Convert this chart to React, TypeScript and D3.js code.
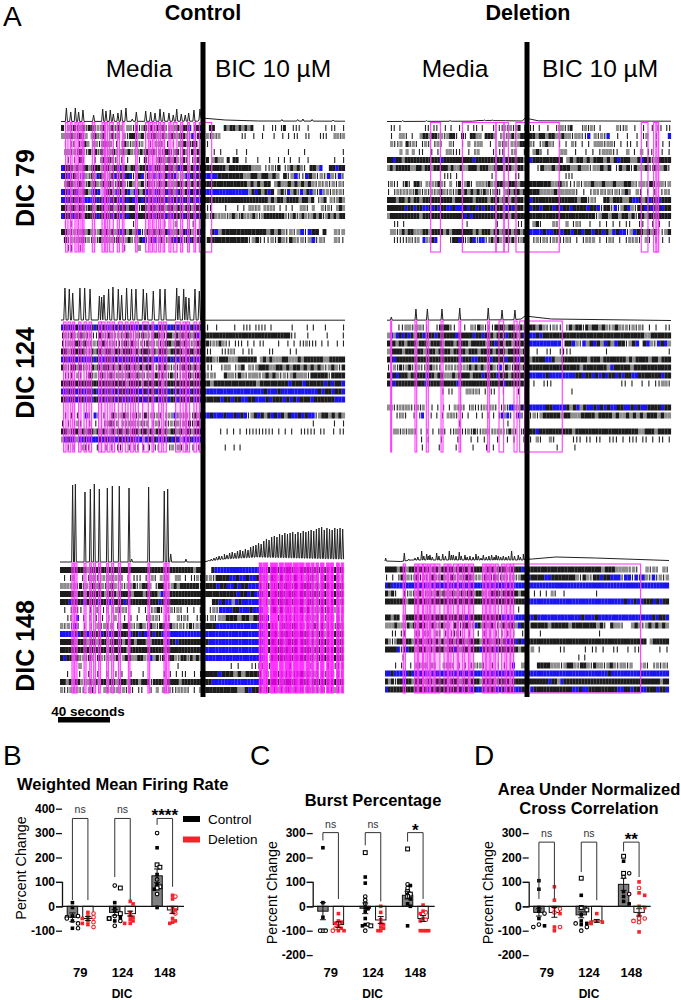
import * as d3 from "d3";
import { useEffect, useRef } from "react";

// raster rows: "media/BIC", one char per time bin
// " " nothing, "|" single spike, "g" sparse bin, "k" dense bin, "b" burst bin
const rowsControl79 = [
  "k|g|k|gk|kk|g|k gk|kg gg|k|gk|k|kgk||g|kgkkb kkb/  kk   kgkkgkgkgk   |  || |k  |||  |     | ||  |",
  "gg:kg|k|g gk|gk |k|g g|kk|gk|g|kg|kg|k|gkkg|b|kk/|g|g|g       ||  |  |   |  | | ||  ||   |||  gg|g",
  " | || |gkg gg|gk|g | |kg|g||g  | gg| | | |gkg|kk |/||",
  " gg|g|kg|k|k|kg|gkg|kgk|g|k|kgk|g|kk|gk|kg|kgk|/|  | |    |  |            |    |           |",
  "  | | k|   | |kgkg| | |   | k|  gk|gk|kg|k| |gk|/|k gkgg k kk  |   |   |  | | |  |  |        |  |",
  "bkkkgkgkkgkkkgkkgkkbkkgkkgkkkbgkkgkkkgkbkkgkbkk/kkkkkkkgkkkkkkkggg ||g|k |gkgkg| kkgb  kkbkk",
  "bkb|kg|bg|kgbkg gkb|kbkb|gkb|kgbgbgkbkbg|gbbkbkb/bbbbkkkkkkkggkkgkkgkg k|gb||bkg|g|bg|b|",
  " gkkg|kg|kgkg|kgkg|kkg|kg gk|kg|gkgkg|gkkgkgkgkg/kkkkkkkkkkkkkgkgkgkk gkggkgkgkgkg|g|g|g|g|",
  "bkbgkbgkkgbkb gkkgbkgkbgbkgkbkgbkgkbkgbkgkbkbkb/bbbbbbbbbbbbbbgkbkgkbk gk|bgk|bgkbg|b|g|g|g|",
  "bbkbkbkbbbbkbkbkbkkbbkbkbbkbkbkbbkkbkbkbkbkbkbbb/kkkkkkkkkkkkkkkkkkkkkgkgkkgkkkkgkkgk |gk g|gkg",
  "kkgkkgkk|kkgkkkgkkgkkkgkkg|kkgkkgkkgkkgkkgkkgkkk/ ||    |   | | gg|g g|g| | | |  gg| g  g|g| gkg",
  "bkkkbkkgkkkkbkkkkbkkbkbkkbkkkkkbkkkbkbkkkbkkkbkb/kg|kg|gg|gkg|kg|gkg|gkkkkkkkg|gk|gkg|gkgk|gkgkgkk",
  " | |                     |          |   g     |   /|  ",
  "kkg|g|gkgkg|gkgkgkgkbkgkgkb|gkgkgkgkb|gkgkbkg|kb/  kbgkkkkkkkkkkkkgkgkg|g|gb|bkk k  g|g",
  " k|g|g|k|g|g|kg|gg|kg|gk||gkb|gkb|kg|gkbkb|kbk|kb/ kkkkkkkkkkk|gk|||g|kg|kg|g|gb|g|  g||",
  "  ||  |              |    g/",
];

const rowsDeletion79 = [
  " || |        || ||  | |  |  | || |   | ||g|g|gk ||/|| |  |  |gg||k   |g|g| |     g||g  |  |  | || ||",
  " |  gg| |  gkkgkk|g|gkk| k| kkgg kkkg |g|gk|gkkk/kkgkkgkkggkgg|gg||b g|g|b  |  |  | |g  |   b",
  " g||g k|g| |g| |g|  g|  | g |gg  |  g|g g|gkkk/g| |gkg| | | g| | | ggg|gg| | || |  |  | | |",
  "    g g g ||  | |  gg|||  | |g    | ||  |g  |g/ gk| |   gg  |  | | |ggg||  g | g ||  | |",
  "kkbkkgkkkkkkkkkkkkbkkkkkkkkkkbkkkkkkkkkbkkkkkkgk/bkkkkkkkkk gkgkkgkgkkkgkgkbkkkggkbkk|gkkkk",
  "gkgkkkkkggkkgkkgkkkkkgkggkggkkkgkkkggkkkgkkggkkgk/  |kggkgkkkggkgg|ggkgk |kgk|kggk|kggk|",
  "                   ||| |           |       ||   /            |||",
  "|g|| |k| kk| g|g|kg| g |k|gk| ggg|kg|kkkgkkkgkkk/kkkkkkggkg|||g|ggkggkggkggkkg|gg|k|gg|g",
  "| |g|g|g|kg|g|g|gkg|g|gkgkgkgk|kg|gk| gkgkkgkk/kkkggggkggggg| | |g|g|g|g|gk| g| | | |g|",
  "kkkgkkgkgkkgkkkkkkkkkkgkkkkkkgkkkkgkkkgkkgkkkkgk/bkkkkkkkkkkkkkkgkk|g|  kkgkkkggkbbkgkbkkbkkk",
  "kkkkkkbkkbkkbbkbkbkkbbkbbbkbkkbkbkkbkkkkbkbkkkgk/bkkbkkkbkbkkbkkkkbkkb|kk|b|gkbg|kkbkbkkbkk",
  "gkkkkkkkkkkgkkkkkkkkkkkkkkbkbkkkkkkkkkkkkgkkkkkk/kkkkkkkkkkkkkkkkkkkk|gkkgkkgkkgk|kkgkkkkkkk",
  "  || |                    |         |      ||  / gk|   g|  g |g|  |  | | | | ||  ||  | |  |",
  " gg|gkgkkgggkkgkkkkgkgkkkkkkkgkgkkkgkkgkkkgkkgkk/bbbbkbbkkbkkbkkbkkbkkbkgbkbb|gbkkgkgk||gk",
  "  |||||g||g b|gkb    |kkbk|gkb|bb||kgkg|k|kg|gkk/ |g|g||g|||g| | |g|g | |g| | |g|g| g| | | |",
];

const rowsControl124 = [
  "bkbkbkbkbbkbkbkbbkbkbkbkbbkbkbkbbkbkbbkbkbkbkbkb/ |  |     |  ||| |||| |      |    | |   |     |",
  "|g|kg|kg|g||kg|kg|g|gkg|g|kg|gkkg|kkgkgkgkgkb|/kkkkkkkkkkkkkkkkkkkkkkkkkkk||   |     |    |",
  "||g|kkgkg|g|gkg|g||gk|kg|g|kg|g|gkkgkkgkg|gkg/gk|g|kg|| ||| | | ||    |  | | ||g||| | |  | |",
  "kkg|kkkkg|kgkkgkkgkkgkkkgkgkkkgkgkkkgkkkkgkkkgkk/ ||   |||g|  | ||     ||     | |",
  "bkbbkbkbbbkbkbbkkbkbbkbkbkbkkbkbbbkbkbkbkkbkbkbk/gkkg|kkkgggkkkkkk gkgkgggkkgggkgkkkkkkggkkkkk",
  "kg|kkgk|g|kgkgkkgkgkgkkgkgkgkk||kgkg|g|gkgkgkgk/ ||  |gg |gk g|gkkkggkkgkgkkgkgkgkg|gkg|k",
  " ||| g| |k|g|kg|kg|gg|k|gkg||g|k|kg|kg||g|kg|kg/g|g|  kgg|kg|ggg|gkgkg|g|gkggg|kkkkk|kkkk",
  "kkkkkkkkkkkkkkkkkkkkkkgkkkkgkkkkkkgkkkkkkkkkkkkk/kkgkkkkkkkkkkkkgkkkkkkkkbkkkbkkkkkbkbkkb",
  "bbkbkbkbbkbkbbkbkbkbkkbkbkbbkbkkbkbkbkbkbkbbkbkb/kbbbbbbbbbbbbbbbbbkbbbkbbbbbbbbbbbkbkkbkkb",
  "kkbkkbkkbkbkkbkbkkbkkbkbkkbkbkkbkbkkbkkbkkbkkbkb/kkkkkbkkbkkbbkkbbbkbkkkbkbkbkkkbkkkkkkbbb",
  "/",
  " | | |  b| b| |  kg|gkg|g|g|k|g|g| |g|b|g|g||kgk/bbkbbbkbbkbkb|gkbkgkbkbkgkbbkbkbb|gkkgkgkg",
  "| | |g|  | |  |gk|| g||g|g||g |g| ||g|g|g|k|gk|/                                    |      |  |",
  "kkg|kkgkgkkgkgk|gkgkkgkgkkgkkgkgkkgkgkkgkgkkgkkb/     | | | | ||||||||| | | |  ||||| ||  | ||",
  "gbkbbgbbkbbbbkbkbkbbkbkbkbbbgbkbkbbkbkbkbgbbkbbbb/",
  "  | |  g||  |  | | ||  | || | | ||   |g|g| | | ||/|      |  | |",
];

const rowsDeletion124 = [
  "   ||gg|gg||  |kkk||  | g|kg|||kkkgkkgkg|/kkgkg||g|| |kgkk|kgkkgkg|gkg|g|g|g| | |  ||",
  "gbgbkbkbkgkkbkkkbkkkkkkbkkkkkbkkbkkkgkkkbkkkgkbk/bbkbkkkkkkkkkkkkkkkkkkkkkkkkkkkkkkggkkkkkk",
  "kkkgkkgkkkgkkkgkkkkgkkkgkkkkgkkkkkgkkbkkgkkgkkkkk/bbbbbbbbb kkbg|bgkbkgbkgbkk|gkb kbg|bkbg",
  "gkkkkgkkkgkkgkkkgkkkkgkkkkgkkkgkkkkgkkkgkkkkgkk/  |  ||  ||||          |                  |",
  "kkbkkkkkkkkkkkkkkkkkkkkkbkkkbbkkkkbkkkkbkkkbkkk/gkkkkbbkggkkkkkkkkgkkkgkkkkkkkgkgkkkkgkkgkkk",
  "||g|k|gk||g|||kg|| |g||g|g|kgkgkg|kg|b|kg|kkgkk/kkkkkkkkkkkkkkkgkkkkkkkgbkkkkkgkkkkkkkkkkk",
  "kbkbkkkgkkkkkbkkgkkgggkgkkkkgkkkbkkkkbkkkgkkkkkk/bbbbbkbbbbbbbbkkbkkbkbkbkkbkbkkbbkkkkkkkbkk",
  "kkbkkkkkkkkkkbkkkkkkkkkkbkkkkkkkkkkkkkkkbkkkkkkkk/ |  |||                    || |  | | ||gg|",
  "                  | ||    gg|g| | ||  |    |   /              |",
  "/",
  "gg||g|gg||g|g  | | | | g|g| |g|||g||g| |g|bb|gkbb/bbbbbkkbbbbkgkbgkbbkbkbkbbkkbbkbkbbkkkkbkk",
  " | ||g|  | |b  | | | g|g| | |  | | | | |b|b| |b| |/|g|gkkkkkgkkgggkkkkgkkkkgkggkgkgkgkkkgkgg",
  "                      |              |      /",
  " |gg|g|gg| | | | |g| ||gg||g|k||gg||g|g||kg| |kk/kkbkkkkkkkkkkgkkkkkkkkkkkkkkkkkkkggkkkgkkkk",
  "          | |   |    |   | | |   |  | |  ||/| g|  g|     ||| || ||  ||| | ||| || | || |",
  "          |    |    |    |   | |         |/         |     |",
];

const rowsControl148 = [
  "kkkkkkkkkgkkkkkkkkkkkkkkkkkkkkkkkkkkkkkkkkkkkgkk/   kbbbbbbbbbbbbbbbbbkbkkbkkkkgkkkkkkkkkkkkkkk",
  " | |g  | |gg||g|g|g|| | ||| | g| g|g  gg | ||g|/g|g|kkkkbbkbbkbbkgb|kg|kg|gkg|g|kg|gkg|kg|",
  "ggg|g|k|g|kgkg|gkg|g|g|k|gkkg |kkg|gkgkkkkkk|/gkkkbkkbbkbkkbbbk|kg|kgkg|kgkkkgkgkkgkkk",
  "kkkkkgkkgkkkkkkgkkkgkkkkgkkkgkkkkgbkgkkkkkkkkkkk/kkkkkkkkkkbkkbkbbk|kgkkkgkkgkkgkkkgkgkkkk",
  "kkkbkkkkbkkkkbkkkbkkkkbkkkkkkkkkkkbkkkkkkkkkkkkkk/   kkbkbbgbkbbbbbb|kgkgkkkgkgkkgkkgkkkgkkgk",
  " | |g||  | | || |g|g|   | | |gk| |g|g| | | |/| |g|bbbbkkbbbkbbb |gk|kg|g|gk|kg|gk|k|g|g",
  "  || b | | | | | g  | | |  |g|g| ||  g|g|  ||/g|g|ggkkkgkkgkkkb  |g|g|g|g|g|g|g|g|",
  "g|g|b| | | g|g|g |gkkg|gkg|kg|kkgkg|g||k|g|/kkkkbbbbbbbbbbbbbbbk|g|kg|k|g|g|k|kg|g|kg",
  "bbbbbkbkkbbkkkbkkbkkbkkkbkkbkbbkbkkbbbbbbbbbbbbbb/bbbbbbbbbbbbbbbbbbb kgkgkkgkgkkkgkgkkgkgkkk",
  "kkkkkgkkkgkkgkkkgkkkkgkkkgkkkggkkkkgbkkbkkkkkkkk/gkbbbbbbbbbbbbbbbbb kkgkkgkkkgkkgkgkkkkgkkk",
  "kkkkkkkkkkkkkkkkgkkkkkkgkkkkkkkkkkkkkkkkkkkkkkkkk/bbbbbbbbbbbbbbbbbbb kgkkkkgkkgkkkgkkgkkkkkk",
  "kbkkgk|g|kg|kg|gg|k|gkkggkkg|bgk|k kkg|kk|kgkg/bbbbbbbbbbbbbbbbbbb kgkkkgkgkkkgkgkkkkgkkk",
  "     g                          |      /        | |   |||| |     |     | |  | ||g",
  "  |   |  |  |  |  | |  |   |      | | | ||  | |/kkkkbkkkgkgkkkk g|g|g|g|kkg|g|g|g|g|",
  "kkgkgkkg|gkgkgkkgkkgkkkgkkkgkkk|kkkkgkkkkgkkkkkkk/kkkbbbbbbbbbbbbbbbb kkkkgkkkkgkkkgkkkkkkkkkk",
  "g||g|g|| g| | g|g|g|g|g| ||  | g g|g||g|g| | g/kkkkkkkkkkggkbkkkgk |g|g|g|g|g|g|g|g|g|g",
];

const rowsDeletion148 = [
  "kkkkgkkgkkkkkkkgkkgkkkkgkkkkgkkkkgkkkgkkkgkkkkbb/kkkkkkkkkkkkkkkkkkkkkkgkkkgggg|g|  g|g| g|",
  "| | |kgg|gk|g||kg|kg|kg|g|kkg|g|kg|kg|g||g|gkk/bkkkkbbkkkkkkkg|kg|kkbkkbbb|bb|b|bg|b|g|g",
  "bkbbbbbbbbbbbbbbbbbbbbbbbbbbbbbbbbbbbbbbbbbbbbbbb/bbbbbbbbbbbbbbbbbbbbbbbbbbbbbbbbbbbbbbbbbbbbbb",
  "kgk|  ||g|gkg|g|gkgkg|kg|k|kkgkkg|gkkkgkkkkkgkk/  | | | g|  |          |",
  "kkkkkkkgkkkkkkkkkkkkkkkkkkkkkkkkkkkkkkkkkkkkkkkkb/bbbbbbbbbbbbbbbbbbbbbbbbbbbbbbkbbkbbkkkbkbkk",
  "                                        |  /",
  "kkgkk gkkkkkkkkkkkkkkkkkkkkkbkkkkkkkkkkkbbbbbbbbb/bbkbbbbbbbbbbbbbkbbbkbbbbbbbbbbbbbbbbkbkkb",
  "gggkgg|kgkgkkg|kg|kgg kg|kkg|bkgkgkg|gkgkkgbkg/ kkkkkgkkkkkgkkkkkkkgk| kgg|  gkg|gkgkgkg",
  "  || ||   || g|  g| | ||g|  |  | | | | | | |  ||/    |                   |",
  "kg|gkkgkkgkkkgkkgkgkgkkgkkkgkkkkgkkkgkkgkbkkbkbb/kkkkkkkkkkkkkkkkkkkkkkkkkkkkkkkkkkkkk gkkkkk",
  "kkkkb|kbkkgkkkgkgkkkgkkbkgkkgkkkbkkkkbkkkkkkkgkk/ g |     ||     | || |  ||  | ||     | |",
  "     |                                     /                 | |",
  "   | |  | g|gg g|  g|g| | | |g|g|  | | | |b  gg/   kkkkggg|gkkg|kkg|kgg|gkg|gg|g  |g| |g|g|",
  "bbkbbbbbkbbbbbbbbbbbbbbbbbbbbbbbbbbbbbbbbbbbbbbbb/bbbbbbbbbbbbbbbbbbbbbbbbbkbbbbbbbbbbbbbbbbbb",
  "kgk|kkbkkgkkkgkkgkkkkgkkkgkkgkkkgkkkkgkkkkgkkkkk/kkkkkkkbkkgbkkkkkkkkkkkkkkkkkkkkkkkkkkkkkkkkgkk",
  "bkkkkkkkkkkkkkkbkkkkkkkkkkkbkkbkbbkbkkkbbkbkkbbbkk/ bkkkkkkkkkkkkbbkbbkkkkkkkkkbbkkbkkbbkkkbkkb",
];

// network burst windows, [start, end] in seconds
const burstsControl79 = [[3.5,5.3],[7.1,8.4],[10.6,12.2],[13.4,15.2],[16.5,17.5],[23.8,25.6],[31.2,33],[34,35.5],[37,39.8],[42.8,44.4],[46.6,47.9],[56.8,58],[64.4,66.7],[67.7,69.5],[70.7,72.5],[74.3,75.8],[77.6,78.8],[82.1,83.6],[85.4,88.2],[91,92.5],[96.3,97.6],[101.1,102.4],[105.2,114.6]];
const burstsDeletion79 = [[33.2,40.6],[57.3,82.9],[82.9,89],[89,92.3],[98.1,131],[193.4,198.5],[202.8,205.3],[204.5,206.6]];
const burstsControl124 = [[2,3.8],[5.3,7.4],[8.9,10.4],[13.4,15.2],[17.5,19.5],[21.3,23.3],[28.6,30.7],[30.9,33.5],[35.2,37.3],[38.8,40.8],[43.6,46.6],[48.9,51],[53,55],[56.5,58.8],[62.1,66.4],[69.2,70.5],[74.3,76.6],[77.8,80.1],[87.2,90.7],[92.8,94.8],[95.6,97.8],[101.1,103.2],[105.2,107.2]];
const burstsDeletion124 = [[2.8,3.5],[21.3,22.6],[29.9,31.4],[41.1,42.6],[54.8,56],[76.6,77.8],[85.2,88.7],[96.6,98.9],[100.9,104.7],[104.7,133.3]];
const burstsControl148 = [[9.1,10.6],[11.2,12.9],[18.3,19.8],[22.6,23.8],[25.6,27.1],[29.4,30.7],[35.5,36.8],[39.3,40.8],[44.4,45.9],[52,53.2],[66.9,68.2],[79.1,80.4],[81.1,82.9],[151.6,153.6],[154.6,155.9],[156.4,157.9],[160.2,165.3],[166.8,169.8],[171.1,176.2],[177.4,181.2],[182,185.6],[187.1,190.1],[191.4,193.2],[194.7,196.5],[198.2,200.8],[202.8,204.8],[205.8,207.9],[210.4,212.4],[213.9,215.5]];
const burstsDeletion148 = [[13.9,15.5],[22.6,24.6],[25.6,28.6],[29.2,31.2],[32.2,33.7],[34.7,37.3],[38,41.8],[44.9,47.4],[48.4,50.2],[52,55],[55.8,59.1],[60.3,63.6],[64.6,67.4],[74.3,76.3],[77.3,79.3],[80.4,82.9],[83.9,86.2],[88.7,91.3],[92.5,95.1],[95.6,97.8],[97.8,194.4]];

// population trace: spikes [t, height] on a slow baseline [t, height]
const peaksControl79 = [[4.1,14],[7.4,10],[10.9,14],[13.4,10],[16.7,12],[24.8,7],[31.7,13],[34.2,11],[37.5,12],[39.8,8],[43.3,9],[45.9,12],[49.4,14],[54.2,3],[57.3,10],[64.4,11],[68.2,10],[71.5,9],[75.3,13],[78.1,10],[82.1,9],[85.4,7],[88,13],[91.5,8],[94.5,7],[97.1,9],[101.1,12],[105.7,13],[168,2.5],[180,2.5],[184,3],[191,2.5],[207,2]];
const baseControl79 = [[0,0.5],[104,0.8],[107,4],[125,2],[150,1],[216,0.8]];
const peaksDeletion79: number[][] = [[12,1.5],[30,1.5],[48,1.5],[74,2],[80,2]];
const baseDeletion79 = [[0,0.5],[65,0.8],[70,1.5],[90,1.3],[103,1],[105,4],[115,1.2],[216,0.8]];
const peaksControl124 = [[3,33],[6.3,32],[8.9,28],[14.4,33],[18,33],[22.1,32],[29.2,25],[30.9,24],[32.7,26],[36.2,32],[39.5,34],[43.6,32],[46.1,26],[49.9,33],[53.7,32],[57,32],[62.6,32],[65.1,28],[70.2,30],[75.3,32],[79.1,32],[88,33],[89.7,25],[93.3,32],[95,24],[97.3,23],[101.9,32],[105.2,30]];
const baseControl124 = [[0,1],[104,1],[108,0.8],[216,0.8]];
const peaksDeletion124 = [[3.3,4],[22,12],[30.7,12],[41.8,12],[55.3,13],[77,13],[87.5,11],[97.3,11]];
const baseDeletion124 = [[0,0.8],[95,1.2],[102,2],[105,5],[125,2],[216,0.5]];
const peaksControl148 = [[9.6,78],[11.7,79],[19,71],[23.1,74],[26.1,79],[29.9,74],[36,75],[39.8,77],[45.1,77],[52.5,75],[54.5,4],[67.4,76],[79.3,72],[81.9,74],[84.2,9],[95.8,4],[113,3],[115,4],[117,5],[119,6],[121,7],[123,7],[125,9],[127,8],[129,10],[131,11],[133,10],[135,12],[137,13],[139,12],[141,14],[143,13],[145,16],[147,17],[149,18],[151,20],[153,19],[155,22],[157,24],[159,23],[161,26],[163,27],[165,26],[167,29],[169,28],[171,30],[173,29],[175,30],[177,31],[179,29],[181,31],[183,30],[185,32],[187,31],[189,32],[191,33],[193,32],[195,34],[197,35],[199,36],[201,33],[203,35],[205,34],[207,33],[209,35],[211,34],[213,35],[215,34]];
const baseControl148 = [[0,1],[108,1],[125,4],[150,6],[216,4]];
const peaksDeletion148 = [[0.5,4],[14.7,9],[18,3],[22.8,4],[25,5],[27.9,11],[29.5,6],[31.7,8],[33,6],[34.2,7],[36,5],[39.3,9],[41,6],[43.9,8],[46,6],[48.9,11],[50.5,7],[52,7],[54,6],[56.5,10],[58,6],[60.8,7],[62.5,5],[64.6,6],[67,5],[69.2,8],[71,6],[73,4],[74.8,7],[77,5],[79,6],[81.1,7],[83,5],[84.5,7],[86.2,6],[88,5],[90,6],[92,5],[94,6],[96.3,11],[98.5,6],[101.4,7],[103,5],[105.2,8],[107,6],[109,7]];
const baseDeletion148 = [[0,1],[12,0.5],[20,2],[105,2],[112,3],[130,5],[160,4],[216,1.5]];

// summary plots
const dicLabels = ["79", "124", "148"];

const meanB = [[-45, -50], [-25, -30], [125, -15]];
const semB = [[18, 8], [12, 10], [28, 14]];
const filledB = [
  [[15, -5, -40, -45, -60, -90], [-25, -40, -50, -60, -70, -75]],
  [[15, -5, -20, -45, -60], [20, 10, -25, -40, -45, -55, -60, -70, -70]],
  [[240, 130, 90, 70, -5], [45, 30, -5, -15, -25, -50, -60, -65, -70]],
];
const openSquareB = [[[], []], [[75, -30, -50], []], [[170, 160, 80, 75], []]];
const openCircleB = [
  [[-40, -45, -50, -70, -90], [-30, -45, -65, -85]],
  [[85, -40, -50, -60, -80], []],
  [[300, 110, 50], [40, -30]],
];
const bracketLegsB = [[26, 26], [120, 25], [334, 80]];

const meanC = [[-20, -75], [-8, -56], [45, -50]];
const semC = [[35, 12], [22, 14], [15, 12]];
const filledC = [
  [[240, 15, -45], [-30, -60, -65, -70, -80, -90, -100, -100]],
  [[120, 95, -5, -10, -20, -50, -75, -80], [0, -25, -55, -70, -75, -85, -90, -100, -100]],
  [[85, 30, 10, 0, -80], [5, -20, -30, -50, -60, -100, -100, -100, -100]],
];
const openSquareC = [[[], []], [[220, -80], []], [[235, 60, 50, 40], []]];
const openCircleC = [
  [[-100, -100, -100], [-90, -100]],
  [[40, 25, 10, -75, -100], []],
  [[90, 75], [-25, -55]],
];
const bracketLegsC = [[270, 30], [250, 20], [265, 30]];

const meanD = [[-25, -25], [-35, -60], [90, -25]];
const semD = [[15, 20], [12, 6], [25, 15]];
const filledD = [
  [[105, 70, -5, -20, -50, -80], [80, 25, -5, -30, -85, -100]],
  [[45, -35, -60, -70, -75], [-30, -60, -65, -65, -70, -70]],
  [[185, 40, 20, 10, 60], [100, 55, 45, 0, -5, -35, -60, -105]],
];
const openSquareD = [[[], []], [[115, -5, -15], []], [[205, 135], []]];
const openCircleD = [
  [[-30, -75, -85], [-10, -25, -85]],
  [[-70, -85, -100], []],
  [[135, 120, 50], [75, -50, -50, -60, -65]],
];
const bracketLegsD = [[30, 30], [140, 25], [225, 120]];

const FONT = "'Liberation Sans', Arial, sans-serif";
const RASTER_COLORS: Record<string, string> = { k: "#1c1c1c", g: "#8f8f8f", b: "#1a14f0" };

export default function App() {
  const ref = useRef<SVGSVGElement | null>(null);

  useEffect(() => {
    if (!ref.current) return;
    const svg = d3.select(ref.current);
    svg.selectAll("*").remove();

    const text = (
      s: string,
      x: number,
      y: number,
      size: number,
      weight = "normal",
      anchor = "middle",
      rotate = false,
      fill = "#000"
    ) =>
      svg
        .append("text")
        .attr("transform", `translate(${x},${y})${rotate ? " rotate(-90)" : ""}`)
        .attr("text-anchor", anchor)
        .attr("font-family", FONT)
        .attr("font-size", size)
        .attr("font-weight", weight)
        .attr("fill", fill)
        .text(s);

    // raster panels
    const drawRaster = (
      rows: string[],
      bursts: number[][],
      peaks: number[][],
      base: number[][],
      left: number,
      rowTop: number,
      traceY: number,
      burstTop: number,
      burstBottom: number,
      burstFill: number,
      peakWidth: number
    ) => {
      const x = d3.scaleLinear().domain([0, 216]).range([left, left + 284]);
      const y = d3.scaleLinear().domain([0, 1]).range([rowTop, rowTop + 8]);
      const g = svg.append("g");

      const drawPart = (part: string, r: number, t0: number, t1: number) => {
        // near-full strings fill their half, short ones keep the 48 bin grid
        const n = part.length >= 35 ? part.length : 48;
        const bins = d3.scaleBand<number>().domain(d3.range(n)).range([x(t0), x(t1)]);
        [...part.slice(0, n)].forEach((c, i) => {
          if (c === " ") return;
          const x0 = bins(i)!;
          if (c === "|") {
            g.append("rect")
              .attr("x", x0 + 1)
              .attr("y", y(r))
              .attr("width", 1.1)
              .attr("height", 6)
              .attr("fill", "#222");
          } else {
            g.append("rect")
              .attr("x", x0)
              .attr("y", y(r))
              .attr("width", bins.bandwidth() + 0.1)
              .attr("height", 6)
              .attr("fill", RASTER_COLORS[c] ?? "#8f8f8f");
          }
        });
      };

      rows.forEach((row, r) => {
        const [media, bic = ""] = row.split("/");
        drawPart(media, r, 0, 108);
        drawPart(bic, r, 108, 216);
      });

      const baseline = d3.scaleLinear().domain(base.map((d) => d[0])).range(base.map((d) => d[1]));
      const pts: number[][] = [...base];
      peaks.forEach(([t, h]) => {
        pts.push([t - peakWidth, baseline(t - peakWidth)], [t, h], [t + peakWidth, baseline(t + peakWidth)]);
      });
      pts.sort((a, b) => a[0] - b[0]);
      const traceScale = d3.scaleLinear().domain([0, 100]).range([traceY, traceY - 100]);
      g.append("path")
        .attr(
          "d",
          d3
            .line<number[]>()
            .x((d) => x(d[0]))
            .y((d) => traceScale(d[1]))(pts)
        )
        .attr("fill", "none")
        .attr("stroke", "#222")
        .attr("stroke-width", 1);

      g.selectAll(null)
        .data(bursts)
        .join("rect")
        .attr("x", (d) => x(d[0]))
        .attr("y", burstTop)
        .attr("width", (d) => x(d[1]) - x(d[0]))
        .attr("height", burstBottom - burstTop)
        .attr("fill", (d) => (d[1] - d[0] < 5.5 ? "#ff00ff" : "none"))
        .attr("fill-opacity", (d) => (d[0] > 150 ? burstFill * 3.2 : burstFill))
        .attr("stroke", "#ff3cff")
        .attr("stroke-width", 1.1);
    };

    drawRaster(rowsControl79, burstsControl79, peaksControl79, baseControl79, 61, 125, 122, 122.5, 252, 0.14, 0.8);
    drawRaster(rowsDeletion79, burstsDeletion79, peaksDeletion79, baseDeletion79, 387, 125, 122, 122.5, 252, 0, 0.8);
    drawRaster(rowsControl124, burstsControl124, peaksControl124, baseControl124, 61, 324.5, 321, 322, 452, 0.14, 0.9);
    drawRaster(rowsDeletion124, burstsDeletion124, peaksDeletion124, baseDeletion124, 387, 324.5, 321, 321, 452, 0, 0.7);
    drawRaster(rowsControl148, burstsControl148, peaksControl148, baseControl148, 60, 567, 563, 563, 693, 0.25, 0.7);
    drawRaster(rowsDeletion148, burstsDeletion148, peaksDeletion148, baseDeletion148, 385, 566.5, 562, 564, 693, 0.25, 0.6);

    // treatment dividers
    [203, 527].forEach((x) => {
      svg.append("rect").attr("x", x - 2.5).attr("y", 42).attr("width", 5).attr("height", 655).attr("fill", "#000");
    });

    // panel A text
    text("A", 3, 26, 28, "normal", "start");
    text("Control", 203, 20, 21.5, "bold");
    text("Deletion", 528, 20, 21.5, "bold");
    text("Media", 139, 77, 24.5);
    text("BIC 10 µM", 273, 77, 24.5);
    text("Media", 455, 77, 24.5);
    text("BIC 10 µM", 600, 77, 24.5);
    text("DIC 79", 34, 188, 25, "bold", "middle", true);
    text("DIC 124", 34, 373, 25, "bold", "middle", true);
    text("DIC 148", 34, 646, 25, "bold", "middle", true);
    text("40 seconds", 88, 716, 13.5, "bold");
    svg.append("rect").attr("x", 58).attr("y", 717).attr("width", 52).attr("height", 5.5).attr("fill", "#000");

    // summary plots
    const y = d3.scaleLinear().domain([0, 100]).range([906.3, 881.9]);

    const drawBars = (
      axisX: number,
      bandLeft: number,
      zeroEnd: number,
      ticks: number[],
      mean: number[][],
      sem: number[][],
      filled: number[][][],
      openSquare: number[][][],
      openCircle: number[][][],
      legs: number[][],
      bracketTop: number,
      labels: string[],
      labelValue: number
    ) => {
      const g = svg.append("g");
      const x = d3.scaleBand<string>().domain(dicLabels).range([bandLeft, bandLeft + 127]);
      const sub = d3.scaleBand<number>().domain([0, 1]).range([-15.5, 15.5]).padding(0);

      g.append("g")
        .attr("transform", `translate(${axisX},0)`)
        .call(
          d3
            .axisLeft(y)
            .tickValues(ticks)
            .tickSize(6)
            .tickFormat((d) => String(d))
        )
        .call((a) => {
          a.selectAll("path,line").attr("stroke", "#111").attr("stroke-width", 1.3);
          a.selectAll("text")
            .attr("font-family", FONT)
            .attr("font-size", 12)
            .attr("font-weight", "bold")
            .attr("fill", "#000")
            .attr("x", -7);
        });

      dicLabels.forEach((dic, i) => {
        const cx = x(dic)! + x.bandwidth() / 2;
        [0, 1].forEach((s) => {
          const bx = cx + sub(s)! + sub.bandwidth() / 2;
          const m = mean[i][s];
          g.append("rect")
            .attr("x", bx - 5.2)
            .attr("y", Math.min(y(m), y(0)))
            .attr("width", 10.4)
            .attr("height", Math.abs(y(m) - y(0)))
            .attr("fill", s === 0 ? "#808080" : "#fff")
            .attr("stroke", "#111")
            .attr("stroke-width", 1);

          // dodge the points so equal values sit side by side
          const color = s === 0 ? "#000" : "#f6232a";
          const all = [
            ...filled[i][s].map((v) => ({ v, shape: "filled" })),
            ...openSquare[i][s].map((v) => ({ v, shape: "square" })),
            ...openCircle[i][s].map((v) => ({ v, shape: "circle" })),
          ];
          const placed: { px: number; py: number }[] = [];
          d3.sort(all, (d) => -d.v).forEach((d) => {
            const py = y(d.v);
            let step = 0;
            let px = bx;
            while (step < 4 && placed.some((p) => Math.abs(p.py - py) < 2.6 && Math.abs(p.px - px) < 2.8)) {
              step += 1;
              px = bx + (step % 2 ? 1 : -1) * Math.ceil(step / 2) * 2.8;
            }
            placed.push({ px, py });
            if (d.shape === "circle") {
              g.append("circle")
                .attr("cx", px)
                .attr("cy", py)
                .attr("r", 1.8)
                .attr("fill", "#fff")
                .attr("stroke", color)
                .attr("stroke-width", 1.1);
            } else if (d.shape === "square") {
              g.append("rect")
                .attr("x", px - 1.9)
                .attr("y", py - 1.9)
                .attr("width", 3.8)
                .attr("height", 3.8)
                .attr("fill", "#fff")
                .attr("stroke", color)
                .attr("stroke-width", 1.1);
            } else {
              g.append("rect")
                .attr("x", px - 1.8)
                .attr("y", py - 1.8)
                .attr("width", 3.6)
                .attr("height", 3.6)
                .attr("fill", color);
            }
          });

          // error bar
          const e = sem[i][s];
          g.append("path")
            .attr(
              "d",
              `M${bx},${y(m - e)}V${y(m + e)}M${bx - 3},${y(m + e)}h6M${bx - 3},${y(m - e)}h6`
            )
            .attr("fill", "none")
            .attr("stroke", "#111")
            .attr("stroke-width", 1);
        });

        // significance bracket
        const lx = cx + sub(0)! + sub.bandwidth() / 2;
        const rx = cx + sub(1)! + sub.bandwidth() / 2;
        g.append("path")
          .attr("d", `M${lx},${y(legs[i][0])}V${y(bracketTop)}H${rx}V${y(legs[i][1])}`)
          .attr("fill", "none")
          .attr("stroke", "#333")
          .attr("stroke-width", 1);
        const lab = labels[i];
        if (lab === "ns") {
          text(lab, cx, y(bracketTop) - 5, 10.5, "normal", "middle", false, "#333");
        } else {
          text(lab, cx, y(bracketTop) + 3, 17, "bold");
        }
        text(dic, cx, y(labelValue), 13, "bold");
      });

      g.append("line")
        .attr("x1", axisX)
        .attr("x2", zeroEnd)
        .attr("y1", y(0))
        .attr("y2", y(0))
        .attr("stroke", "#111")
        .attr("stroke-width", 1.3);
    };

    const sigB = ["ns", "ns", "****"];
    const sigC = ["ns", "ns", "*"];
    const sigD = ["ns", "ns", "**"];
    const tickB = [400, 300, 200, 100, 0, -100];
    const tickCD = [300, 200, 100, 0, -100, -200];

    drawBars(62, 59, 184, tickB, meanB, semB, filledB, openSquareB, openCircleB, bracketLegsB, 360, sigB, -291);
    drawBars(312.7, 309.5, 434.7, tickCD, meanC, semC, filledC, openSquareC, openCircleC, bracketLegsC, 302, sigC, -291);
    drawBars(528.7, 525.5, 650.7, tickCD, meanD, semD, filledD, openSquareD, openCircleD, bracketLegsD, 263, sigD, -291);

    text("B", 3, 765, 28, "normal", "start");
    text("C", 250, 765, 28, "normal", "start");
    text("D", 474, 765, 28, "normal", "start");
    text("Weighted Mean Firing Rate", 122.7, 790, 16.5, "bold");
    text("Burst Percentage", 373, 806, 16.5, "bold");
    text("Area Under Normalized", 589, 795, 16.5, "bold");
    text("Cross Correlation", 589, 814, 16.5, "bold");
    text("Percent Change", 26, 868, 14.3, "normal", "middle", true);
    text("Percent Change", 277, 892.7, 14.3, "normal", "middle", true);
    text("Percent Change", 493, 892.7, 14.3, "normal", "middle", true);
    text("DIC", 122, 997.5, 12, "bold");
    text("DIC", 372.7, 997.5, 12, "bold");
    text("DIC", 589, 997.5, 12, "bold");

    // legend
    svg.append("rect").attr("x", 183).attr("y", 816).attr("width", 17).attr("height", 6).attr("fill", "#000");
    svg.append("rect").attr("x", 183).attr("y", 836.5).attr("width", 17).attr("height", 6).attr("fill", "#f6232a");
    text("Control", 208, 824, 13.5, "normal", "start");
    text("Deletion", 208, 844, 13.5, "normal", "start");
  }, []);

  return (
    <svg
      ref={ref}
      width={681}
      height={1000}
      style={{ position: "absolute", left: 0, top: 0, display: "block", background: "#fff" }}
    />
  );
}
